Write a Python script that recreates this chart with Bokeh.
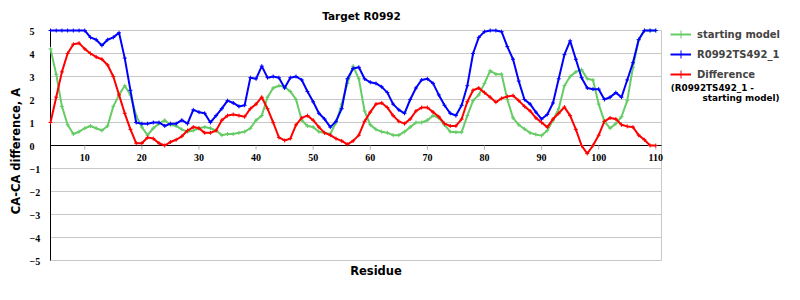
import math
from bokeh.plotting import figure
from bokeh.models import ColumnDataSource, Label, LabelSet, Legend, LegendItem, Range1d
from bokeh.embed import file_html
from bokeh.resources import INLINE

# ---------------- data ----------------
residues = list(range(4, 111))

starting_model = [
    4.2, 3.1, 1.7, 0.9, 0.5, 0.6, 0.75, 0.85, 0.75, 0.65,      # 4-13
    0.85, 1.7, 2.2, 2.6, 2.2, 1.3, 0.8, 0.45, 0.75, 0.95,       # 14-23
    1.1, 0.9, 0.85, 0.7, 0.6, 0.65, 0.75, 0.8, 0.75, 0.65,      # 24-33
    0.45, 0.5, 0.5, 0.55, 0.6, 0.75, 1.1, 1.3, 2.1, 2.5,        # 34-43
    2.6, 2.55, 2.35, 2.0, 1.1, 0.85, 0.8, 0.6, 0.55, 0.5,       # 44-53
    1.0, 1.8, 2.7, 3.45, 2.9, 1.5, 0.9, 0.7, 0.6, 0.55,         # 54-63
    0.45, 0.45, 0.6, 0.8, 1.0, 1.0, 1.1, 1.3, 1.2, 0.9,         # 64-73
    0.6, 0.58, 0.58, 1.3, 1.95, 2.2, 2.7, 3.25, 3.1, 3.1,       # 74-83
    2.0, 1.2, 0.9, 0.72, 0.55, 0.48, 0.43, 0.65, 1.1, 1.6,      # 84-93
    2.6, 3.0, 3.2, 3.3, 2.9, 2.85, 1.8, 1.05, 0.75, 0.95,       # 94-103
    1.25, 1.95, 3.4, 4.6, 5.0, 5.0, 5.0,                        # 104-110
]

model_492 = [
    5.0, 5.0, 5.0, 5.0, 5.0, 5.0, 5.0, 4.7, 4.6, 4.35,          # 4-13
    4.6, 4.7, 4.9, 3.8, 2.4, 1.0, 0.95, 0.95, 1.0, 1.0,         # 14-23
    0.85, 0.95, 0.95, 1.1, 0.95, 1.55, 1.45, 1.4, 1.0, 1.3,     # 24-33
    1.6, 1.95, 1.85, 1.7, 1.75, 2.95, 2.9, 3.45, 2.95, 3.0,     # 34-43
    2.95, 2.5, 2.95, 3.0, 2.85, 2.35, 1.9, 1.4, 1.15, 0.8,      # 44-53
    1.05, 1.6, 2.9, 3.35, 3.4, 2.9, 2.75, 2.7, 2.55, 2.3,       # 54-63
    1.8, 1.55, 1.4, 2.0, 2.5, 2.85, 2.9, 2.7, 2.2, 1.75,        # 64-73
    1.4, 1.3, 1.75, 2.6, 4.0, 4.7, 4.95, 5.0, 5.0, 4.95,        # 74-83
    4.3, 3.75, 2.8, 2.0, 1.8, 1.45, 1.15, 1.35, 1.85, 2.9,      # 84-93
    3.95, 4.55, 3.75, 2.95, 2.5, 2.45, 2.45, 2.0, 2.1, 2.3,     # 94-103
    2.1, 2.85, 3.6, 4.6, 5.0, 5.0, 5.0,                         # 104-110
]

difference = [
    1.0, 2.1, 3.2, 4.0, 4.4, 4.45, 4.2, 4.0, 3.85, 3.75,        # 4-13
    3.5, 3.0, 2.2, 1.4, 0.7, 0.1, 0.1, 0.35, 0.3, 0.1,          # 14-23
    0.0, 0.15, 0.25, 0.4, 0.65, 0.8, 0.75, 0.55, 0.55, 0.65,    # 24-33
    1.1, 1.3, 1.35, 1.3, 1.25, 1.6, 1.8, 2.1, 1.6, 1.0,         # 34-43
    0.35, 0.22, 0.3, 0.9, 1.2, 1.3, 1.1, 0.8, 0.55, 0.45,       # 44-53
    0.3, 0.2, 0.05, 0.2, 0.45, 1.05, 1.45, 1.8, 1.85, 1.65,     # 54-63
    1.3, 1.05, 0.95, 1.15, 1.5, 1.65, 1.65, 1.45, 1.25, 0.95,   # 64-73
    0.85, 0.85, 1.15, 1.9, 2.4, 2.5, 2.3, 2.1, 1.88, 2.05,      # 74-83
    2.13, 2.17, 1.95, 1.7, 1.5, 1.2, 1.0, 0.8, 1.15, 1.4,       # 84-93
    1.67, 1.3, 0.7, 0.0, -0.35, 0.0, 0.45, 1.05, 1.2, 1.15,     # 94-103
    0.9, 0.83, 0.8, 0.45, 0.25, 0.0, 0.0,                       # 104-110
]

x_ticks = [10, 20, 30, 40, 50, 60, 70, 80, 90, 100, 110]
y_ticks = [-5, -4, -3, -2, -1, 0, 1, 2, 3, 4, 5]
y_tick_labels = [("\u2212%d" % -v) if v < 0 else str(v) for v in y_ticks]

series_names = ["starting model", "R0992TS492_1", "Difference"]
title_text = "Target R0992"
x_label = "Residue"
y_label = "CA-CA difference, A"
legend_note = ["(R0992TS492_1 -", "starting model)"]

# ---------------- layout (pixels) ----------------
W, H = 800, 300
L, R, T, B = 50, 661, 30, 260          # plot area inside the canvas
x0, x1 = 4, 111                        # axis limits
y0, y1 = -5, 5
xpp = (x1 - x0) / (R - L)
ypp = (y1 - y0) / (B - T)

FONT = "DejaVu Sans"
p = figure(width=W, height=H, output_backend="svg", toolbar_location=None,
           x_range=Range1d(x0 - L * xpp, x1 + (W - R) * xpp),
           y_range=Range1d(y0 - (H - B) * ypp, y1 + T * ypp),
           x_axis_type=None, y_axis_type=None,
           min_border=0, min_border_left=0, min_border_right=0,
           min_border_top=0, min_border_bottom=0)
p.outline_line_color = None
p.background_fill_color = "white"
p.border_fill_color = "white"
p.grid.visible = False

# horizontal grid lines + plot border
gsrc = ColumnDataSource(dict(x0=[x0] * len(y_ticks), x1=[x1] * len(y_ticks), y=y_ticks))
p.segment(x0="x0", y0="y", x1="x1", y1="y", source=gsrc, line_color="#c8c8c8", line_width=1)
p.segment(x0=[x1], y0=[y0], x1=[x1], y1=[y1], line_color="#c8c8c8", line_width=1)

# axis lines
p.segment(x0=[x0], y0=[0], x1=[x1], y1=[0], line_color="black", line_width=1)
p.segment(x0=[x0], y0=[y0], x1=[x0], y1=[y1], line_color="black", line_width=1)

# x tick marks at y=0
tick_len = 4 * ypp
tick_src = ColumnDataSource(dict(x=x_ticks, y0=[0] * len(x_ticks), y1=[-tick_len] * len(x_ticks),
                                 lab=[str(t) for t in x_ticks]))
p.segment(x0="x", y0="y0", x1="x", y1="y1", source=tick_src, line_color="#b0b0b0", line_width=1)

tick_kw = dict(text_font=FONT, text_font_style="bold", text_font_size="10px", text_color="black")
p.add_layout(LabelSet(x="x", y="y0", text="lab", source=tick_src, text_align="center",
                      text_baseline="top", y_offset=-8, **tick_kw))

ysrc = ColumnDataSource(dict(x=[x0] * len(y_ticks), y=y_ticks, lab=y_tick_labels))
p.add_layout(LabelSet(x="x", y="y", text="lab", source=ysrc, text_align="left",
                      text_baseline="middle", x_offset=-21, y_offset=-1, **tick_kw))

# series
colors = ["#66cc66", "#0000ff", "#ff0000"]
series = [starting_model, model_492, difference]
items = []
for name, vals, c in zip(series_names, series, colors):
    src = ColumnDataSource(dict(x=residues, y=vals))
    ln = p.line("x", "y", source=src, line_color=c, line_width=2)
    sc = p.scatter("x", "y", source=src, marker="cross", size=4, line_color=c, line_width=1)
    items.append(LegendItem(label=name, renderers=[ln, sc]))

legend = Legend(items=items, location=(670, H - 84), border_line_color=None,
                background_fill_alpha=0, padding=0, margin=0, spacing=0,
                glyph_width=21, glyph_height=20, label_height=20, label_standoff=6,
                label_text_font=FONT, label_text_font_style="bold",
                label_text_font_size="10px", label_text_baseline="middle")
p.add_layout(legend)

xmid = (x0 + x1) / 2
lab_kw = dict(text_font=FONT, text_font_style="bold", text_color="black")
p.add_layout(Label(x=xmid, y=y1, text=title_text, text_align="center", text_baseline="middle",
                   x_offset=5.5, y_offset=15, text_font_size="10.5px", **lab_kw))
p.add_layout(Label(x=xmid, y=y0, text=x_label, text_align="center", text_baseline="middle",
                   x_offset=20, y_offset=-10, text_font_size="11.5px", **lab_kw))
p.add_layout(Label(x=x0, y=0, text=y_label, text_align="center", text_baseline="middle",
                   angle=math.pi / 2, x_offset=-35, y_offset=-5.5, text_font_size="11.5px", **lab_kw))
p.add_layout(Label(x=x1, y=y1, text=legend_note[0], text_align="left", text_baseline="middle",
                   x_offset=9.3, y_offset=-57.3, text_font_size="8.8px", **lab_kw))
p.add_layout(Label(x=x1, y=y1, text=legend_note[1], text_align="left", text_baseline="middle",
                   x_offset=41, y_offset=-67.3, text_font_size="8.8px", **lab_kw))

open("out.html", "w").write(file_html(p, INLINE))
